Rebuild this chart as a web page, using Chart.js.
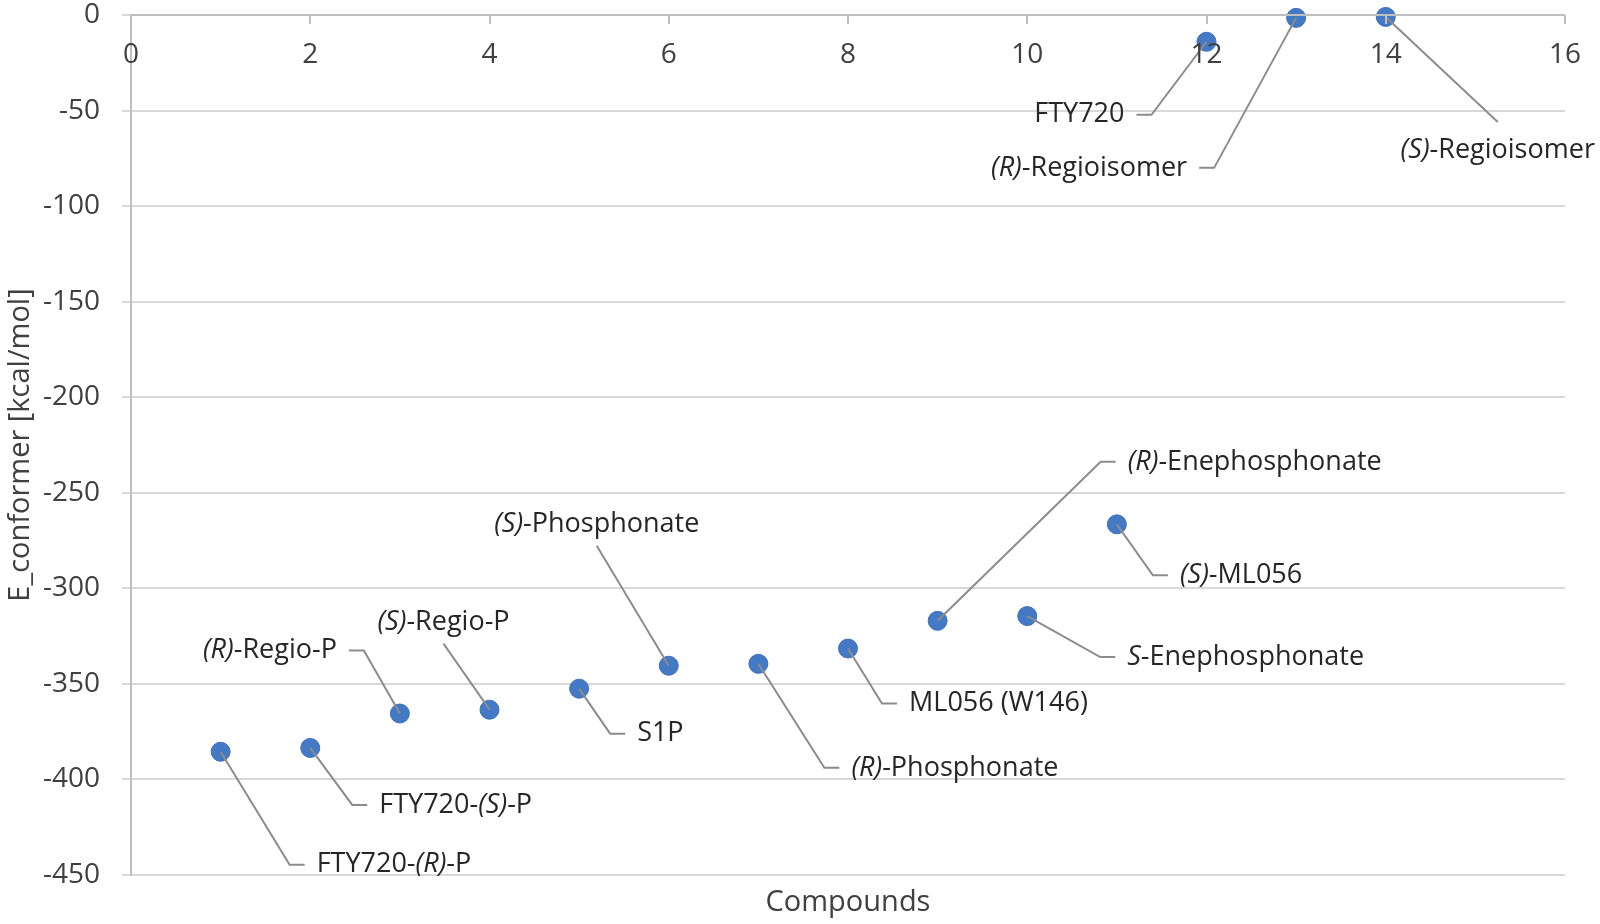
<!DOCTYPE html>
<html>
<head>
<meta charset="utf-8">
<script src="https://cdn.jsdelivr.net/npm/chart.js@4.4.1/dist/chart.umd.min.js"></script>
<style>
  html, body { margin: 0; padding: 0; background: #ffffff; }
  #wrap { width: 1600px; height: 924px; }
</style>
</head>
<body>
<div id="wrap"><canvas id="c" width="1600" height="924"></canvas></div>
<script>
// ---- data ----
const compoundIndex = [1, 2, 3, 4, 5, 6, 7, 8, 9, 10, 11, 12, 13, 14];
const eConformer = [-385.5, -383.5, -365.5, -363.5, -352.5, -340.5, -339.5, -331.5, -317, -314.5, -266.5, -14, -1.5, -1];
// '*' toggles italic
const compoundNames = [
  'FTY720-*(R)*-P', 'FTY720-*(S)*-P', '*(R)*-Regio-P', '*(S)*-Regio-P', 'S1P',
  '*(S)*-Phosphonate', '*(R)*-Phosphonate', 'ML056 (W146)', '*(R)*-Enephosphonate',
  '*S*-Enephosphonate', '*(S)*-ML056', 'FTY720', '*(R)*-Regioisomer', '*(S)*-Regioisomer'
];
const xTickMin = 0, xTickMax = 16, xTickStep = 2;
const yTickMin = -450, yTickMax = 0, yTickStep = 50;
const xTitle = 'Compounds';
const yTitle = 'E_conformer [kcal/mol]';

// ---- label layout (pixel offsets of text anchor from the point) ----
const labelLayout = [
  { dx: 96,  dy: 113,  align: 'left',   lead: 'side' },
  { dx: 69,  dy: 57,   align: 'left',   lead: 'side' },
  { dx: -63, dy: -63,  align: 'right',  lead: 'side' },
  { dx: -46, dy: -87,  align: 'center', lead: 'below' },
  { dx: 58,  dy: 45,   align: 'left',   lead: 'side' },
  { dx: -72, dy: -141, align: 'center', lead: 'below' },
  { dx: 93,  dy: 104,  align: 'left',   lead: 'side' },
  { dx: 61,  dy: 55,   align: 'left',   lead: 'side' },
  { dx: 190, dy: -159, align: 'left',   lead: 'side' },
  { dx: 100, dy: 41,   align: 'left',   lead: 'side' },
  { dx: 63,  dy: 51,   align: 'left',   lead: 'side' },
  { dx: -82, dy: 73,   align: 'right',  lead: 'side' },
  { dx: -109, dy: 150, align: 'right',  lead: 'side' },
  { dx: 112, dy: 133,  align: 'center', lead: 'above' }
];

const FONT = '"Open Sans", "Liberation Sans", sans-serif';
const LABEL_SIZE = 27;
const TEXT_COLOR = '#262626';
const AXIS_TEXT = '#404040';

function parseRich(s) {
  const parts = s.split('*');
  return parts.map((t, i) => ({ text: t, italic: i % 2 === 1 })).filter(p => p.text.length);
}
function fontStr(italic) { return (italic ? 'italic ' : '') + LABEL_SIZE + 'px ' + FONT; }

const topAxisPlugin = {
  id: 'topAxis',
  afterDraw(chart) {
    const ctx = chart.ctx, xs = chart.scales.x, ys = chart.scales.y;
    const y0 = ys.getPixelForValue(0);
    ctx.save();
    ctx.strokeStyle = '#bfbfbf';
    ctx.lineWidth = 2;
    ctx.beginPath();
    ctx.moveTo(xs.left, y0); ctx.lineTo(xs.right, y0);
    xs.ticks.forEach(t => {
      const px = Math.round(xs.getPixelForValue(t.value));
      ctx.moveTo(px, y0); ctx.lineTo(px, y0 + 9);
    });
    ctx.stroke();
    ctx.fillStyle = AXIS_TEXT;
    ctx.font = '28px ' + FONT;
    ctx.textAlign = 'center';
    ctx.textBaseline = 'middle';
    xs.ticks.forEach(t => {
      ctx.fillText(String(t.value), xs.getPixelForValue(t.value), y0 + 40);
    });
    ctx.restore();
  }
};

const labelPlugin = {
  id: 'pointLabels',
  afterDatasetsDraw(chart) {
    const ctx = chart.ctx;
    const meta = chart.getDatasetMeta(0);
    ctx.save();
    meta.data.forEach((pt, i) => {
      const L = labelLayout[i];
      const segs = parseRich(compoundNames[i]);
      let w = 0;
      segs.forEach(s => { ctx.font = fontStr(s.italic); s.w = ctx.measureText(s.text).width; w += s.w; });
      const ax = pt.x + L.dx, ay = pt.y + L.dy;
      let left = L.align === 'left' ? ax : (L.align === 'right' ? ax - w : ax - w / 2);
      // leader
      ctx.strokeStyle = '#8c8c8c';
      ctx.lineWidth = 2;
      ctx.beginPath();
      ctx.moveTo(pt.x, pt.y);
      if (L.lead === 'side') {
        if (L.align === 'right') {
          ctx.lineTo(left + w + 27, ay);
          ctx.lineTo(left + w + 12, ay);
        } else {
          ctx.lineTo(left - 27, ay);
          ctx.lineTo(left - 12, ay);
        }
      } else if (L.lead === 'below') {
        ctx.lineTo(ax, ay + 21);
      } else {
        ctx.lineTo(ax, ay - 28);
      }
      ctx.stroke();
      // text
      ctx.fillStyle = TEXT_COLOR;
      ctx.textBaseline = 'middle';
      ctx.textAlign = 'left';
      let x = left;
      segs.forEach(s => { ctx.font = fontStr(s.italic); ctx.fillText(s.text, x, ay); x += s.w; });
    });
    ctx.restore();
  }
};

new Chart(document.getElementById('c'), {
  type: 'scatter',
  data: {
    datasets: [{
      label: 'E_conformer',
      data: compoundIndex.map((x, i) => ({ x: x, y: eConformer[i] })),
      backgroundColor: '#4479c6',
      borderColor: '#3d6fbb',
      borderWidth: 1,
      pointRadius: 9.5,
      pointHoverRadius: 9.5,
      clip: false
    }]
  },
  options: {
    responsive: false,
    devicePixelRatio: 1,
    animation: false,
    events: [],
    layout: { padding: { left: 0, right: 35, top: 15, bottom: 0 } },
    plugins: { legend: { display: false }, tooltip: { enabled: false } },
    scales: {
      x: {
        type: 'linear',
        position: 'bottom',
        min: xTickMin, max: xTickMax,
        ticks: { display: false, stepSize: xTickStep },
        grid: { display: false },
        border: { display: false },
        title: { display: true, text: xTitle, color: AXIS_TEXT, font: { family: FONT, size: 29 }, padding: { top: 0, bottom: 4 } },
        afterFit(s) { s.height = 49; s.paddingLeft = 0; s.paddingRight = 0; }
      },
      y: {
        type: 'linear',
        min: yTickMin, max: yTickMax,
        ticks: { stepSize: yTickStep, color: AXIS_TEXT, font: { family: FONT, size: 28 }, padding: 22 },
        grid: { color: '#d9d9d9', lineWidth: 2, tickLength: 9, drawTicks: true },
        border: { display: true, color: '#bfbfbf', width: 2 },
        title: { display: true, text: yTitle, color: AXIS_TEXT, font: { family: FONT, size: 29 }, padding: { top: 3, bottom: 0 } },
        afterFit(s) { s.width = 131; s.paddingTop = 0; s.paddingBottom = 0; }
      }
    }
  },
  plugins: [topAxisPlugin, labelPlugin]
});
</script>
</body>
</html>
